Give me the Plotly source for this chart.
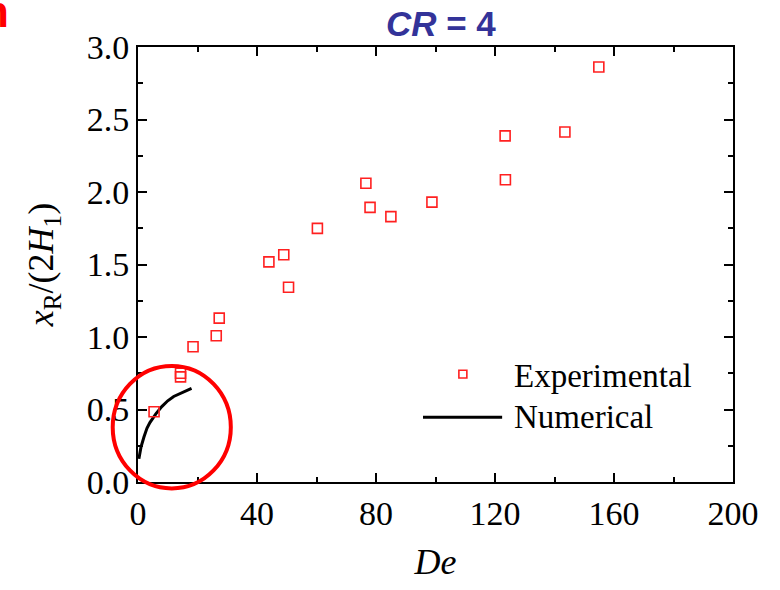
import plotly.graph_objects as go

# Experimental reattachment length data
exp_de = [5.4, 14.3, 14.3, 18.5, 26.3, 27.3, 44.0, 49.0, 50.6, 60.3, 76.6, 78.0,
          85.0, 98.8, 123.4, 123.5, 143.5, 154.9]
exp_xr = [0.484, 0.75, 0.725, 0.933, 1.009, 1.13, 1.518, 1.567, 1.343, 1.749, 2.06, 1.894,
          1.83, 1.93, 2.387, 2.085, 2.414, 2.862]

# Numerical prediction
num_de = [0.3, 1, 2, 3, 4, 5, 6, 8, 10, 12, 14, 16, 18]
num_xr = [0.16, 0.24, 0.31, 0.37, 0.41, 0.44, 0.47, 0.52, 0.56, 0.59, 0.61, 0.63, 0.645]

x_ticks = [0, 40, 80, 120, 160, 200]
y_ticks = [0.0, 0.5, 1.0, 1.5, 2.0, 2.5, 3.0]
X_RANGE = [0, 200]
Y_RANGE = [0, 3]

# Highlight ellipse around the low-De region (data units)
ellipse_de = [-8.5, 31.2]
ellipse_xr = [-0.044, 0.80]

SERIF = "Liberation Serif, Times New Roman, serif"
SANS = "Liberation Sans, Arial, sans-serif"


def px(v):
    return (v - X_RANGE[0]) / (X_RANGE[1] - X_RANGE[0])


def py(v):
    return (v - Y_RANGE[0]) / (Y_RANGE[1] - Y_RANGE[0])


fig = go.Figure()
fig.add_trace(go.Scatter(
    x=num_de, y=num_xr, mode="lines", name="Numerical",
    line=dict(color="black", width=3), showlegend=False, cliponaxis=False,
))
fig.add_trace(go.Scatter(
    x=exp_de, y=exp_xr, mode="markers", name="Experimental",
    marker=dict(symbol="square-open", size=10, color="#ff2020", line=dict(width=1.6)),
    showlegend=False,
))

axis_common = dict(
    showline=True, linecolor="black", linewidth=2, mirror="allticks",
    ticks="inside", ticklen=9, tickwidth=2, tickcolor="black",
    showgrid=False, zeroline=False,
    tickfont=dict(family=SERIF, size=34, color="black"),
)

fig.update_xaxes(
    range=X_RANGE, tickvals=x_ticks, ticktext=[str(v) for v in x_ticks],
    minor=dict(ticks="inside", ticklen=5, tickwidth=2, tickcolor="black", dtick=20),
    title=dict(text="<i>De</i>", font=dict(family=SERIF, size=36, color="black"), standoff=18),
    **axis_common,
)
fig.update_yaxes(
    range=Y_RANGE, tickvals=y_ticks, ticktext=[f"{v:.1f}" for v in y_ticks],
    minor=dict(ticks="inside", ticklen=5, tickwidth=2, tickcolor="black", dtick=0.25),
    title=dict(text="<i>x</i><sub>R</sub>/(2<i>H</i><sub>1</sub>)",
               font=dict(family=SERIF, size=36, color="black"), standoff=22),
    **axis_common,
)

shapes = [
    dict(type="circle", xref="paper", yref="paper",
         x0=px(ellipse_de[0]), x1=px(ellipse_de[1]),
         y0=py(ellipse_xr[0]), y1=py(ellipse_xr[1]),
         line=dict(color="#ff0000", width=4), layer="above"),
    # legend: marker sample and line sample
    dict(type="rect", xref="paper", yref="paper",
         x0=0.5393, x1=0.5527, y0=0.239, y1=0.257,
         line=dict(color="#ff2020", width=1.6)),
    dict(type="line", xref="paper", yref="paper",
         x0=0.479, x1=0.612, y0=0.149, y1=0.149,
         line=dict(color="black", width=3)),
]

annotations = [
    dict(text="Experimental", xref="paper", yref="paper", x=0.628, y=0.243,
         xanchor="left", yanchor="middle", showarrow=False,
         font=dict(family=SERIF, size=33, color="black")),
    dict(text="Numerical", xref="paper", yref="paper", x=0.628, y=0.150,
         xanchor="left", yanchor="middle", showarrow=False,
         font=dict(family=SERIF, size=33, color="black")),
    dict(text="<b>n</b>", xref="paper", yref="paper", x=-0.214, y=1.02,
         xanchor="right", yanchor="bottom", showarrow=False,
         font=dict(family=SANS, size=44, color="#ff0000")),
]

fig.update_layout(
    width=780, height=590,
    margin=dict(l=138, r=47, t=47, b=108),
    paper_bgcolor="white", plot_bgcolor="white",
    title=dict(text="<b><i>CR</i> = 4</b>", x=0.509, xref="paper", y=1 - 24 / 590,
               yref="container", xanchor="center", yanchor="middle",
               font=dict(family=SANS, size=35, color="#333399")),
    shapes=shapes, annotations=annotations, showlegend=False,
)

fig.write_html("out.html")
